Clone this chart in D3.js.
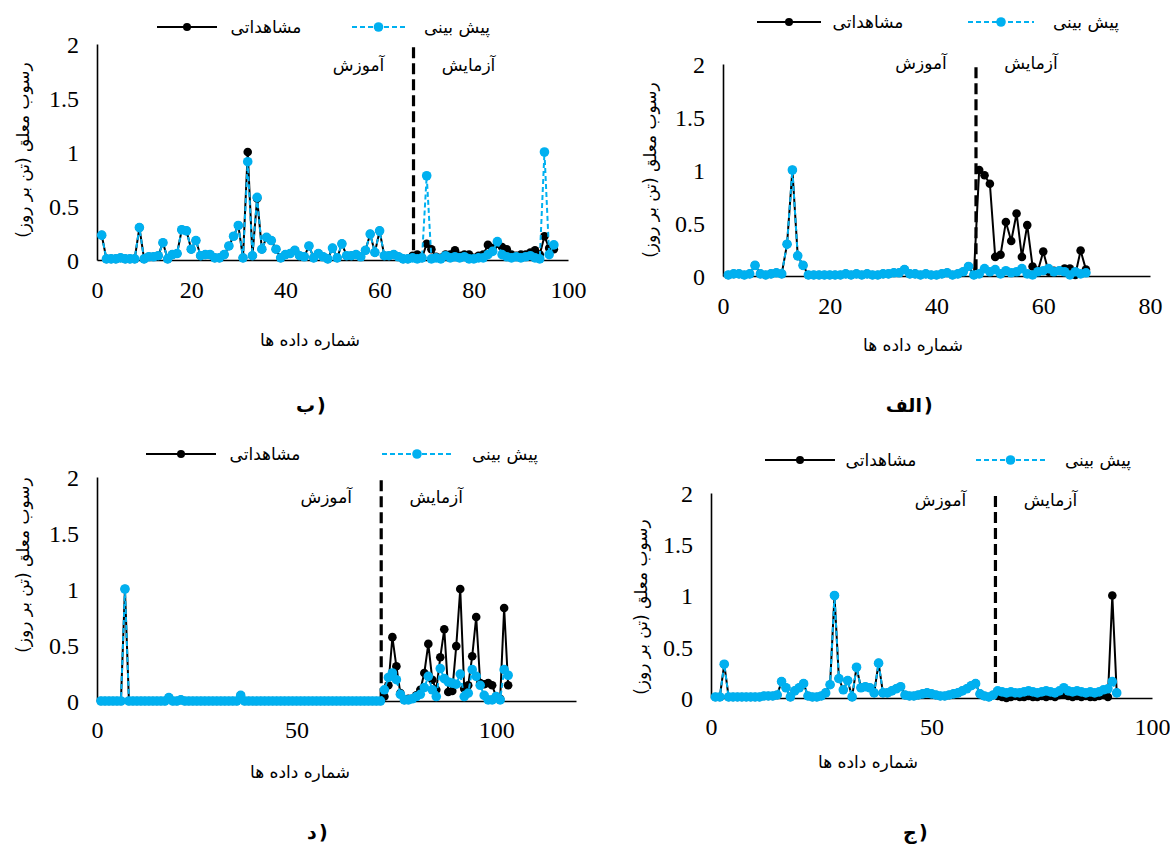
<!DOCTYPE html>
<html dir="ltr">
<head>
<meta charset="utf-8">
<script src="https://cdnjs.cloudflare.com/ajax/libs/d3/7.8.5/d3.min.js"></script>
<style>
  body { margin: 0; background: #fff; }
  svg { direction: ltr; }
  .num { font-family: "Liberation Serif", "Times New Roman", serif; font-size: 24px; fill: #000; }
  .fa { font-family: "DejaVu Sans", sans-serif; font-size: 17px; fill: #000; }
  .tag { font-family: "DejaVu Sans", sans-serif; font-size: 19px; font-weight: bold; fill: #000; }
  .paren { font-family: "DejaVu Sans", sans-serif; font-size: 19px; font-weight: bold; fill: #000;
           direction: ltr; unicode-bidi: bidi-override; }
</style>
</head>
<body>
<svg id="chart" width="1170" height="849"></svg>
<script>
// panel "الف"
var alefObs = [0.01,0.02,0.02,0.01,0.02,0.10,0.02,0.01,0.02,0.03, 0.02,0.30,1.00,0.19,0.10,0.01,0.01,0.01,0.01,0.01,
  0.01,0.01,0.02,0.01,0.02,0.01,0.02,0.01,0.01,0.02, 0.02,0.03,0.03,0.06,0.02,0.02,0.01,0.02,0.01,0.01,
  0.02,0.03,0.01,0.02,0.04,0.09,0.01,
  1.00,0.95,0.87, 0.18,0.20,0.51,0.33,0.59,0.18,0.48,0.09,0.05,0.23, 0.04,0.05,0.05,0.07,0.07,0.01,0.24,0.06];
var alefPred = [0.01,0.02,0.02,0.01,0.02,0.10,0.02,0.01,0.02,0.03, 0.02,0.30,1.00,0.19,0.10,0.01,0.01,0.01,0.01,0.01,
  0.01,0.01,0.02,0.01,0.02,0.01,0.02,0.01,0.01,0.02, 0.02,0.03,0.03,0.06,0.02,0.02,0.01,0.02,0.01,0.01,
  0.02,0.03,0.01,0.02,0.04,0.09,0.01,
  0.02,0.07,0.04, 0.06,0.02,0.05,0.03,0.04,0.07,0.02,0.01,0.04,0.05, 0.07,0.04,0.05,0.04,0.01,0.04,0.02,0.03];

// panel "ب"
var beObs = [0.23,0.01,0.01,0.01,0.02,0.01,0.01,0.01,0.30,0.01, 0.03,0.03,0.04,0.16,0.01,0.05,0.06,0.28,0.27,0.10,
  0.18,0.04,0.05,0.05,0.02,0.02,0.05,0.13,0.22,0.32, 0.02,1.00,0.04,0.57,0.10,0.21,0.18,0.10,0.02,0.05,
  0.06,0.09,0.04,0.03,0.13,0.02,0.06,0.03,0.01,0.11, 0.02,0.15,0.04,0.04,0.05,0.03,0.09,0.24,0.07,0.27,
  0.04,0.04,0.05,0.03,0.01,0.01,0.04,
  0.05,0.02,0.15, 0.10,0.03,0.02,0.05,0.05,0.09,0.04,0.05,0.05,0.02, 0.04,0.05,0.14,0.11,0.15,0.12,0.10,0.05,0.04,0.05,
  0.05,0.07,0.09,0.05,0.22,0.11,0.10];
var bePred = [0.23,0.01,0.01,0.01,0.02,0.01,0.01,0.01,0.30,0.01, 0.03,0.03,0.04,0.16,0.01,0.05,0.06,0.28,0.27,0.10,
  0.18,0.04,0.05,0.05,0.02,0.02,0.05,0.13,0.22,0.32, 0.02,0.91,0.04,0.58,0.10,0.21,0.18,0.10,0.02,0.05,
  0.06,0.09,0.04,0.03,0.13,0.02,0.06,0.03,0.01,0.11, 0.02,0.15,0.04,0.04,0.05,0.03,0.09,0.24,0.07,0.27,
  0.04,0.04,0.05,0.03,0.01,0.01,0.02,
  0.01,0.02,0.78, 0.01,0.02,0.01,0.04,0.02,0.03,0.02,0.03,0.01,0.01, 0.02,0.02,0.05,0.08,0.17,0.05,0.03,0.02,0.03,0.02,
  0.03,0.04,0.02,0.01,1.00,0.05,0.14];

// panel "ج"
var jimObs = [0.01,0.01,0.33,0.01,0.01,0.01,0.01,0.01,0.01,0.01, 0.01,0.02,0.02,0.02,0.03,0.16,0.10,0.01,0.07,0.10,
  0.14,0.02,0.01,0.01,0.02,0.05,0.13,1.00,0.19,0.08, 0.17,0.01,0.30,0.10,0.11,0.10,0.05,0.34,0.05,0.05,
  0.07,0.09,0.11,0.03,0.02,0.02,0.03,0.04,0.05,0.04, 0.03,0.02,0.02,0.03,0.04,0.05,0.07,0.09,0.12,0.14,
  0.04,0.02,0.01,0.03,
  0.02,0.01,0.00,0.01,0.02,0.01, 0.01,0.02,0.01,0.01,0.02,0.01,0.02,0.01,0.03,0.04, 0.02,0.01,0.02,0.01,0.02,0.01,0.01,0.02,0.03,0.01,
  1.00,0.05];
var jimPred = [0.01,0.01,0.33,0.01,0.01,0.01,0.01,0.01,0.01,0.01, 0.01,0.02,0.02,0.02,0.03,0.16,0.10,0.01,0.07,0.10,
  0.14,0.02,0.01,0.01,0.02,0.05,0.13,1.00,0.19,0.08, 0.17,0.01,0.30,0.10,0.11,0.10,0.05,0.34,0.05,0.05,
  0.07,0.09,0.11,0.03,0.02,0.02,0.03,0.04,0.05,0.04, 0.03,0.02,0.02,0.03,0.04,0.05,0.07,0.09,0.12,0.14,
  0.04,0.02,0.01,0.03,
  0.07,0.06,0.05,0.06,0.05,0.05, 0.06,0.07,0.06,0.05,0.06,0.07,0.06,0.05,0.07,0.10, 0.07,0.06,0.07,0.06,0.05,0.06,0.05,0.06,0.08,0.09,
  0.16,0.05];

// panel "د"
var dalObs = [0,0,0,0,0,0,1.00,0,0,0, 0,0,0,0,0,0,0,0.03,0,0, 0.01,0,0,0,0,0,0,0,0,0,
  0,0,0,0,0,0.05,0,0,0,0, 0,0,0,0,0,0,0,0,0,0, 0,0,0,0,0,0,0,0,0,0, 0,0,0,0,0,0,0,0,0,0, 0,
  0.04,0.14,0.57,0.31,0.07,0.01,0.02,0.02,0.05, 0.10,0.25,0.51,0.19,0.10,0.39,0.64,0.08,0.09,0.49,
  1.00,0.11,0.14,0.40,0.75,0.16,0.15,0.16,0.14,0.04, 0.02,0.83,0.14];
var dalPred = [0,0,0,0,0,0,1.00,0,0,0, 0,0,0,0,0,0,0,0.03,0,0, 0.01,0,0,0,0,0,0,0,0,0,
  0,0,0,0,0,0.05,0,0,0,0, 0,0,0,0,0,0,0,0,0,0, 0,0,0,0,0,0,0,0,0,0, 0,0,0,0,0,0,0,0,0,0, 0,
  0.10,0.21,0.25,0.19,0.06,0.01,0.01,0.02,0.04, 0.06,0.12,0.22,0.10,0.04,0.29,0.20,0.17,0.16,0.15,
  0.24,0.04,0.07,0.28,0.22,0.14,0.05,0.01,0.01,0.04, 0.01,0.28,0.23];

var yTicks = [0, 0.5, 1, 1.5, 2];
var alefTicks = [0, 20, 40, 60, 80];
var beTicks = [0, 20, 40, 60, 80, 100];
var jimTicks = [0, 50, 100];
var dalTicks = [0, 50, 100];

var txtObs = "مشاهداتی", txtPred = "پیش بینی";
var txtTrain = "آموزش", txtTest = "آزمایش";
var txtX = "شماره داده ها", txtY = "رسوب معلق (تن بر روز)";

var blue = "#00b0f0";

// leg: [black line start, end, obs text centre, blue line start, end, pred text centre] from legX
var panels = [
  { tag: "ب", obs: beObs, pred: bePred, ticks: beTicks, xMax: 100, split: 67.2,
    left: 97, right: 568, base: 260, top: 44, legX: 157, legY: 27, leg: [0, 60, 109, 195, 248, 300],
    labY: 65, yTitleX: 23, yTitleY: 150, xTitleX: 310, xTitleY: 340, tagX: 316, tagY: 405, tickY: 290 },
  { tag: "الف", obs: alefObs, pred: alefPred, ticks: alefTicks, xMax: 80, split: 47.4,
    left: 723, right: 1150, base: 276, top: 64, legX: 757, legY: 22, leg: [0, 64, 111, 211, 277, 329],
    labY: 63, yTitleX: 650, yTitleY: 170, xTitleX: 913, xTitleY: 345, tagX: 923, tagY: 405, tickY: 306 },
  { tag: "د", obs: dalObs, pred: dalPred, ticks: dalTicks, xMax: 120, split: 71.2,
    left: 97, right: 576, base: 701, top: 477, legX: 146, legY: 454, leg: [0, 70, 119, 236, 306, 359],
    labY: 497, yTitleX: 23, yTitleY: 565, xTitleX: 300, xTitleY: 772, tagX: 318, tagY: 832, tickY: 730 },
  { tag: "ج", obs: jimObs, pred: jimPred, ticks: jimTicks, xMax: 100, split: 64.5,
    left: 711, right: 1152, base: 698, top: 493, legX: 765, legY: 460, leg: [0, 70, 116, 211, 280, 333],
    labY: 500, yTitleX: 641, yTitleY: 607, xTitleX: 868, xTitleY: 762, tagX: 918, tagY: 832, tickY: 727 }
];

var svg = d3.select("#chart");

panels.forEach(function(p) {
  var x = d3.scaleLinear().domain([0, p.xMax]).range([p.left, p.right]);
  var y = d3.scaleLinear().domain([0, 2]).range([p.base, p.top]);
  var g = svg.append("g");

  var xAxis = d3.axisBottom(x).tickValues(p.ticks).tickSize(0).tickSizeOuter(0);
  var yAxis = d3.axisLeft(y).tickValues(yTicks).tickSize(0).tickSizeOuter(0).tickPadding(18)
                .tickFormat(function(d) { return String(d); });

  var gx = g.append("g").attr("transform", "translate(0," + p.base + ")").call(xAxis);
  gx.selectAll("text").attr("class", "num").attr("y", p.tickY - p.base).attr("dy", "0.35em");
  var gy = g.append("g").attr("transform", "translate(" + p.left + ",0)").call(yAxis);
  gy.selectAll("text").attr("class", "num").attr("dy", "0.35em");
  g.selectAll(".domain").attr("stroke", "#000").attr("stroke-width", 1.6);

  // train / test divider
  g.append("line")
    .attr("x1", x(p.split)).attr("x2", x(p.split))
    .attr("y1", y(1.97)).attr("y2", y(0))
    .attr("stroke", "#000").attr("stroke-width", 3.2)
    .attr("stroke-dasharray", "11,5");

  g.append("text").attr("class", "fa").attr("direction", "rtl")
    .attr("x", x(p.split) - 55).attr("y", p.labY).attr("dy", "0.35em")
    .attr("text-anchor", "middle").text(txtTrain);
  g.append("text").attr("class", "fa").attr("direction", "rtl")
    .attr("x", x(p.split) + 55).attr("y", p.labY).attr("dy", "0.35em")
    .attr("text-anchor", "middle").text(txtTest);

  var line = d3.line()
    .x(function(d, i) { return x(i + 1); })
    .y(function(d) { return y(d); });

  g.append("path").datum(p.obs)
    .attr("fill", "none").attr("stroke", "#000").attr("stroke-width", 2)
    .attr("d", line);
  g.selectAll(".dotObs").data(p.obs).enter().append("circle")
    .attr("class", "dotObs")
    .attr("cx", function(d, i) { return x(i + 1); })
    .attr("cy", function(d) { return y(d); })
    .attr("r", 4.3).attr("fill", "#000");

  g.append("path").datum(p.pred)
    .attr("fill", "none").attr("stroke", blue).attr("stroke-width", 2)
    .attr("stroke-dasharray", "5,3")
    .attr("d", line);
  g.selectAll(".dotPred").data(p.pred).enter().append("circle")
    .attr("class", "dotPred")
    .attr("cx", function(d, i) { return x(i + 1); })
    .attr("cy", function(d) { return y(d); })
    .attr("r", 4.8).attr("fill", blue);

  // legend
  var L = p.leg;
  var lg = g.append("g").attr("transform", "translate(" + p.legX + "," + p.legY + ")");
  lg.append("line").attr("x1", L[0]).attr("x2", L[1]).attr("stroke", "#000").attr("stroke-width", 2);
  lg.append("circle").attr("cx", (L[0] + L[1]) / 2).attr("r", 4).attr("fill", "#000");
  lg.append("text").attr("class", "fa").attr("direction", "rtl").attr("text-anchor", "middle")
    .attr("x", L[2]).attr("dy", "0.35em").text(txtObs);
  lg.append("line").attr("x1", L[3]).attr("x2", L[4]).attr("stroke", blue).attr("stroke-width", 2)
    .attr("stroke-dasharray", "5,3");
  lg.append("circle").attr("cx", (L[3] + L[4]) / 2).attr("r", 4.8).attr("fill", blue);
  lg.append("text").attr("class", "fa").attr("direction", "rtl").attr("text-anchor", "middle")
    .attr("x", L[5]).attr("dy", "0.35em").text(txtPred);

  g.append("text").attr("class", "fa").attr("direction", "rtl").attr("text-anchor", "middle")
    .attr("transform", "translate(" + p.yTitleX + "," + p.yTitleY + ") rotate(-90)")
    .attr("dy", "0.35em").text(txtY);
  g.append("text").attr("class", "fa").attr("direction", "rtl").attr("text-anchor", "middle")
    .attr("x", p.xTitleX).attr("y", p.xTitleY).attr("dy", "0.35em").text(txtX);

  // panel tag: letter on the left, closing bracket to its right
  var t = g.append("text").attr("class", "tag").attr("text-anchor", "middle")
    .attr("x", 0).attr("y", p.tagY).attr("dy", "0.35em").text(p.tag);
  var bb = t.node().getBBox();
  t.attr("x", p.tagX - 1 - (bb.x + bb.width));
  g.append("text").attr("class", "paren")
    .attr("x", p.tagX + 1).attr("y", p.tagY).attr("dy", "0.35em").text(")");
});
</script>
</body>
</html>
